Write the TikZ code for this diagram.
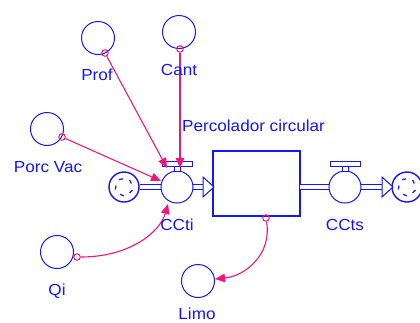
\documentclass[tikz,border=0pt]{standalone}
\usepackage{fontspec}
\setmainfont{Liberation Sans}
\usetikzlibrary{arrows.meta}
\definecolor{sblue}{RGB}{20,20,255}
\definecolor{spink}{RGB}{245,20,120}
\begin{document}
\begin{tikzpicture}[x=1pt,y=-1pt,
  aux/.style={circle,draw=sblue,line width=1pt,minimum size=33pt,inner sep=0pt},
  valve/.style={circle,draw=sblue,line width=1pt,minimum size=32pt,inner sep=0pt,fill=white},
  cloud/.style={circle,draw=sblue,line width=1.4pt,minimum size=30pt,inner sep=0pt},
  lbl/.style={text=sblue,font=\fontsize{16}{18}\selectfont,inner sep=0pt,xscale=1.07},
  conn/.style={draw=spink,line width=1.1pt,-{Triangle[length=10pt,width=8.5pt]}},
  orig/.style={circle,draw=spink,line width=1pt,minimum size=6.5pt,inner sep=0pt},
  pipe/.style={draw=sblue,line width=1pt,double=white,double distance=3.5pt},
  head/.style={draw=sblue,fill=white,line width=1pt,line join=miter},
  bar/.style={draw=sblue,fill=white,line width=1pt},
  tick/.style={draw=sblue,line width=1.2pt}
]
\useasboundingbox (0,0) rectangle (420,322);

% auxiliaries
\node[aux] (prof) at (98,38) {};
\node[aux] (cant) at (179,32) {};
\node[aux] (porc) at (47,129) {};
\node[aux] (qi) at (57,252) {};
\node[aux] (limo) at (198,281) {};

% stock
\node[draw=sblue,line width=1.2pt,minimum width=87pt,minimum height=65pt,inner sep=0pt] (stock) at (256.5,183.5) {};

% clouds
\node[cloud] (cl) at (124,187) {};
\node[cloud] (cr) at (407,187) {};
\foreach \c in {cl,cr}{
  \foreach \a in {20,92,164,236,308}{
    \draw[tick] (\c.center) ++(\a:9) -- ++(\a+115:4);
  }
}

% inflow CCti
\coordinate (ib) at (203,187);
\coordinate (it) at (214,187);
\draw[pipe] (cl.east) -- (ib);
\node[valve] (ccti) at (177,187) {};
\draw[head] (203,177) -- (it) -- (203,197) -- cycle;
\draw[bar] (174,166) rectangle (180,171);
\draw[bar] (162,161) rectangle (192,166);

% outflow CCts
\coordinate (os) at (300,187);
\coordinate (ob) at (382,187);
\coordinate (ot) at (393,187);
\draw[pipe] (os) -- (ob);
\node[valve] (ccts) at (345,187) {};
\draw[head] (382,177) -- (ot) -- (382,197) -- cycle;
\draw[bar] (342,166) rectangle (348,171);
\draw[bar] (330,161) rectangle (360,166);

% connector origins
\node[orig] (po) at (105,53) {};
\node[orig] (co) at (180,49) {};
\node[orig] (pvo) at (62,137) {};
\node[orig] (qo) at (77,257) {};
\node[orig] (so) at (266,218) {};

\coordinate (t1) at (167,168);
\coordinate (t2) at (180,168);
\coordinate (t3) at (161,181);
\coordinate (t4) at (168,204);
\coordinate (t5) at (215,279);

\draw[conn] (po) -- (t1);
\draw[conn] (co) -- (t2);
\draw[conn] (pvo) -- (t3);
\draw[conn] (qo) .. controls (130,257) and (160,232) .. (t4);
\draw[conn] (so) .. controls (272,255) and (245,276) .. (t5);

% labels
\node[lbl,anchor=base] (lprof) at (97,80) {Prof};
\node[lbl,anchor=base] (lcant) at (179,75) {Cant};
\node[lbl,anchor=base] (lporc) at (48,172) {Porc Vac};
\node[lbl,anchor=base west] (lperc) at (182,131) {Percolador circular};
\node[lbl,anchor=base] (lccti) at (177,230) {CCti};
\node[lbl,anchor=base] (lccts) at (345,230) {CCts};
\node[lbl,anchor=base] (lqi) at (57,295) {Qi};
\node[lbl,anchor=base] (llimo) at (197,319.5) {Limo};
\end{tikzpicture}
\end{document}
